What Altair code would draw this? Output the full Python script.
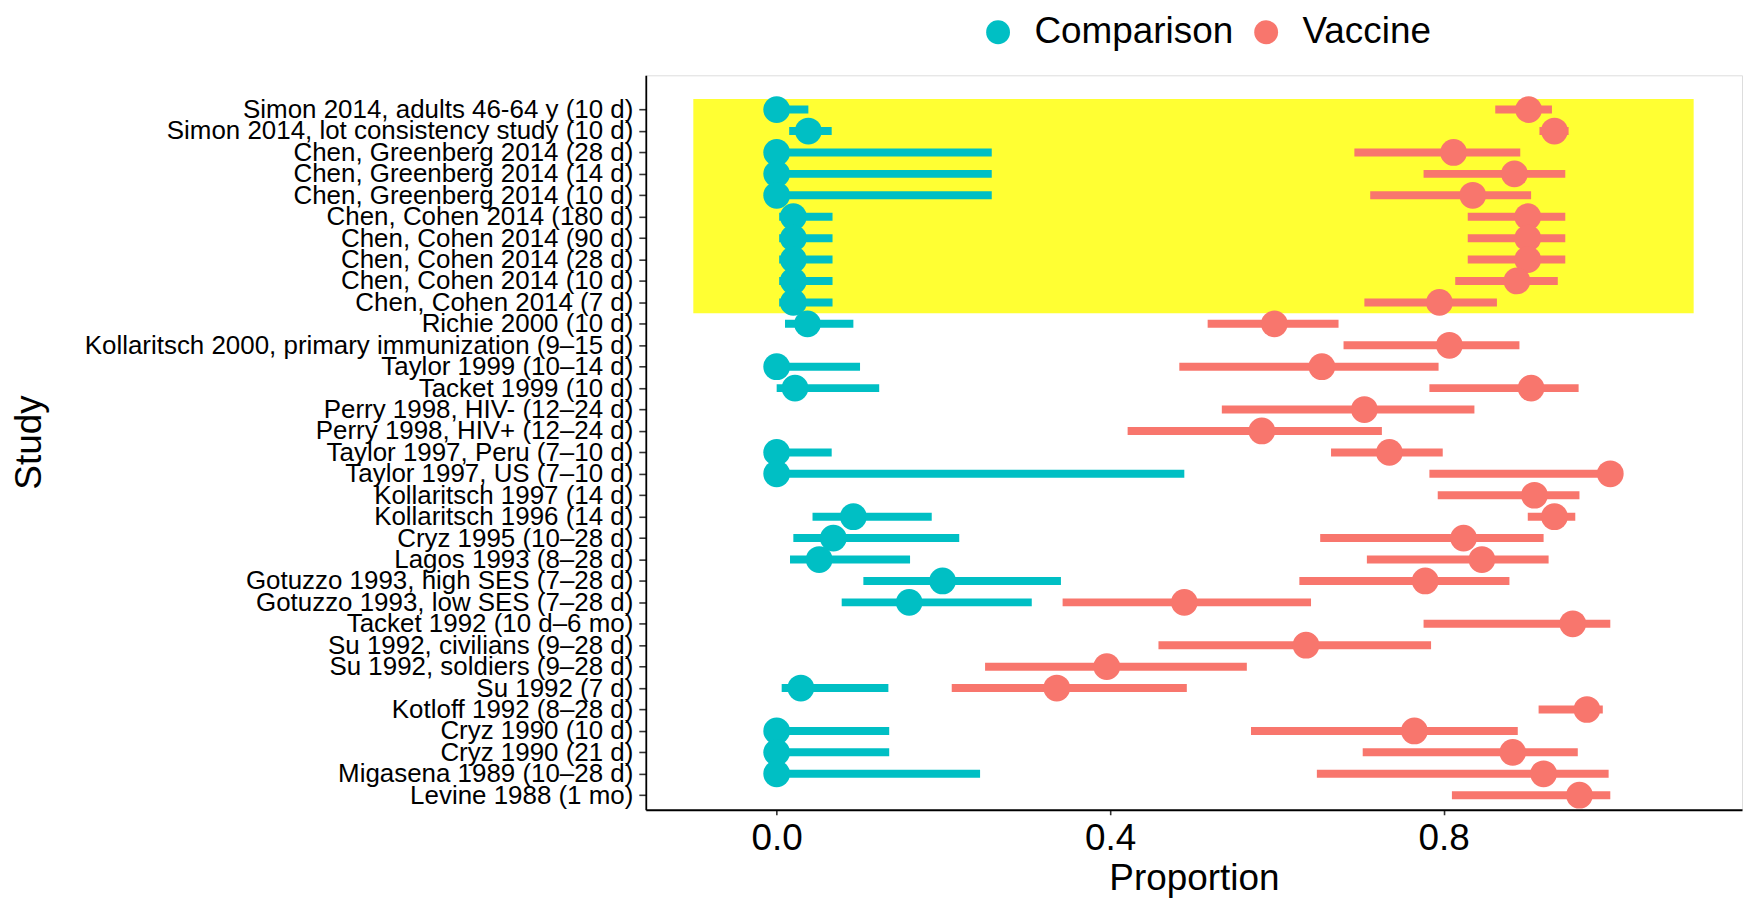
import json
import altair as alt
import pandas as pd

# ---------------- data (top to bottom as shown) ----------------
studies = [
    "Simon 2014, adults 46-64 y (10 d)",
    "Simon 2014, lot consistency study (10 d)",
    "Chen, Greenberg 2014 (28 d)",
    "Chen, Greenberg 2014 (14 d)",
    "Chen, Greenberg 2014 (10 d)",
    "Chen, Cohen 2014 (180 d)",
    "Chen, Cohen 2014 (90 d)",
    "Chen, Cohen 2014 (28 d)",
    "Chen, Cohen 2014 (10 d)",
    "Chen, Cohen 2014 (7 d)",
    "Richie 2000 (10 d)",
    "Kollaritsch 2000, primary immunization (9\u201315 d)",
    "Taylor 1999 (10\u201314 d)",
    "Tacket 1999 (10 d)",
    "Perry 1998, HIV- (12\u201324 d)",
    "Perry 1998, HIV+ (12\u201324 d)",
    "Taylor 1997, Peru (7\u201310 d)",
    "Taylor 1997, US (7\u201310 d)",
    "Kollaritsch 1997 (14 d)",
    "Kollaritsch 1996 (14 d)",
    "Cryz 1995 (10\u201328 d)",
    "Lagos 1993 (8\u201328 d)",
    "Gotuzzo 1993, high SES (7\u201328 d)",
    "Gotuzzo 1993, low SES (7\u201328 d)",
    "Tacket 1992 (10 d\u20136 mo)",
    "Su 1992, civilians (9\u201328 d)",
    "Su 1992, soldiers (9\u201328 d)",
    "Su 1992 (7 d)",
    "Kotloff 1992 (8\u201328 d)",
    "Cryz 1990 (10 d)",
    "Cryz 1990 (21 d)",
    "Migasena 1989 (10\u201328 d)",
    "Levine 1988 (1 mo)",
]

comp_est = [0.0, 0.038, 0.0, 0.0, 0.0, 0.020, 0.020, 0.020, 0.020, 0.020,
            0.037, None, 0.0, 0.022, None, None, 0.0, 0.0, None, 0.092,
            0.068, 0.051, 0.199, 0.159, None, None, None, 0.029, None, 0.0,
            0.0, 0.0, None]
comp_lo = [0.0, 0.015, 0.0, 0.0, 0.0, 0.003, 0.003, 0.003, 0.003, 0.003,
           0.010, None, 0.0, 0.0, None, None, 0.0, 0.0, None, 0.043,
           0.020, 0.016, 0.104, 0.078, None, None, None, 0.006, None, 0.0,
           0.0, 0.0, None]
comp_hi = [0.038, 0.066, 0.258, 0.258, 0.258, 0.067, 0.067, 0.067, 0.067, 0.067,
           0.092, None, 0.100, 0.123, None, None, 0.066, 0.489, None, 0.186,
           0.219, 0.160, 0.341, 0.306, None, None, None, 0.134, None, 0.135,
           0.135, 0.244, None]

vac_est = [0.902, 0.933, 0.812, 0.885, 0.835, 0.901, 0.901, 0.901, 0.888, 0.795,
           0.597, 0.807, 0.654, 0.905, 0.705, 0.582, 0.735, 1.0, 0.909, 0.933,
           0.824, 0.846, 0.778, 0.489, 0.955, 0.635, 0.396, 0.336, 0.972, 0.765,
           0.883, 0.920, 0.963]
vac_lo = [0.862, 0.915, 0.693, 0.776, 0.712, 0.829, 0.829, 0.829, 0.814, 0.705,
          0.517, 0.680, 0.483, 0.783, 0.534, 0.421, 0.665, 0.783, 0.793, 0.901,
          0.652, 0.708, 0.627, 0.343, 0.776, 0.458, 0.250, 0.210, 0.914, 0.569,
          0.703, 0.648, 0.810]
vac_hi = [0.930, 0.950, 0.892, 0.946, 0.905, 0.946, 0.946, 0.946, 0.937, 0.864,
          0.674, 0.891, 0.794, 0.962, 0.837, 0.726, 0.799, 1.0, 0.963, 0.958,
          0.920, 0.926, 0.879, 0.641, 1.0, 0.785, 0.564, 0.492, 0.991, 0.889,
          0.961, 0.998, 1.0]

groups = ["Comparison", "Vaccine"]
group_colors = ["#00BFC4", "#F8766D"]

highlight_count = 10          # first rows (recent studies) highlighted
highlight_x = [-0.1, 1.1]
x_ticks = [0.0, 0.4, 0.8]

# ---------------- tables ----------------
n = len(studies)
recs = []
for i, s in enumerate(studies):
    r = n - i
    if comp_est[i] is not None:
        recs.append(dict(study=s, row=r, group="Comparison",
                         est=comp_est[i], lo=comp_lo[i], hi=comp_hi[i]))
    recs.append(dict(study=s, row=r, group="Vaccine",
                     est=vac_est[i], lo=vac_lo[i], hi=vac_hi[i]))
df = pd.DataFrame(recs)

rect_df = pd.DataFrame([{
    "x1": highlight_x[0], "x2": highlight_x[1],
    "y1": n - highlight_count + 0.5, "y2": n + 0.5,
}])

labels_bottom_up = studies[::-1]
label_expr = json.dumps(labels_bottom_up, ensure_ascii=False) + "[datum.value - 1]"

FONT = "Liberation Sans"
BIG = 37

x_scale = alt.Scale(domain=[-0.157, 1.158], nice=False, zero=False)
y_scale = alt.Scale(domain=[0.32, 34.6], nice=False, zero=False)

x_axis = alt.Axis(
    values=x_ticks, format=".1f", title="Proportion",
    labelFontSize=BIG, titleFontSize=BIG, titleFontWeight="normal",
    tickSize=5, labelPadding=6, titleBaseline="top", titleY=51,
    grid=False, domainColor="black", domainWidth=1.8,
    tickColor="#333333", tickWidth=1.6, labelColor="black", titleColor="black",
    labelFont=FONT, titleFont=FONT, labelLimit=0, titleLimit=0,
)
y_axis = alt.Axis(
    values=list(range(1, n + 1)), labelExpr=label_expr, title="Study",
    labelFontSize=26, titleFontSize=BIG, titleFontWeight="normal",
    tickSize=7, labelPadding=6, labelOverlap=False, labelBound=False,
    labelLimit=0, titleLimit=0,
    titleAngle=270, titleBaseline="top", titleAlign="center",
    titleX=-636, titleY=368,
    grid=False, domainColor="black", domainWidth=1.8,
    tickColor="#333333", tickWidth=1.6, labelColor="black", titleColor="black",
    labelFont=FONT, titleFont=FONT,
)

color_enc = alt.Color(
    "group:N",
    scale=alt.Scale(domain=groups, range=group_colors),
    legend=alt.Legend(
        title=None, orient="none", direction="horizontal",
        legendX=335, legendY=-62,
        labelFontSize=BIG, labelFont=FONT, labelColor="black", labelLimit=0,
        symbolType="circle", symbolSize=572, symbolStrokeWidth=0,
        symbolOpacity=1, labelOffset=18, columnPadding=14,
    ),
)

rect = alt.Chart(rect_df).mark_rect(color="#FFFF33", opacity=1).encode(
    x=alt.X("x1:Q", scale=x_scale, axis=x_axis),
    x2="x2:Q",
    y=alt.Y("y1:Q", scale=y_scale, axis=y_axis),
    y2="y2:Q",
)

bars = alt.Chart(df).mark_rule(strokeWidth=8, opacity=1).encode(
    x=alt.X("lo:Q", scale=x_scale, axis=x_axis),
    x2="hi:Q",
    y=alt.Y("row:Q", scale=y_scale, axis=y_axis),
    color=color_enc,
)

points = alt.Chart(df).mark_circle(size=720, opacity=1).encode(
    x=alt.X("est:Q", scale=x_scale, axis=x_axis),
    y=alt.Y("row:Q", scale=y_scale, axis=y_axis),
    color=color_enc,
)

chart = alt.layer(rect, bars, points).properties(
    width=1100, height=737,
    padding={"left": 640, "top": 66, "right": 2, "bottom": 90},
    autosize=alt.AutoSizeParams(type="none"),
    background="white",
).configure_view(stroke=None).configure(font=FONT)

chart.save("out.html", embed_options={"renderer": "svg", "actions": False})
